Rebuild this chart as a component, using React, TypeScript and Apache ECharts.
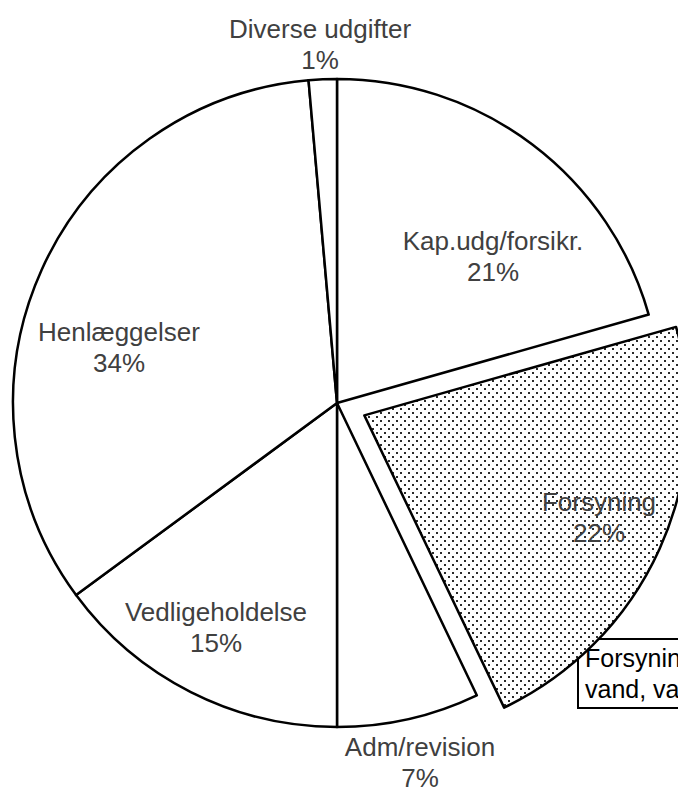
import React, { useEffect, useRef } from "react";
import * as echarts from "echarts";

// ---- data (clockwise from 12 o'clock) ----
const categories = [
  "Kap.udg/forsikr.",
  "Forsyning",
  "Adm/revision",
  "Vedligeholdelse",
  "Henlæggelser",
  "Diverse udgifter",
];
const values = [20.6, 22.3, 7.1, 14.9, 33.7, 1.4];
const explodedCategory = "Forsyning";
const calloutLines = ["Forsyning", "vand, varme"];

// ---- layout constants ----
const CX = 337;
const CY = 403;
const R = 324;
const EXPLODE = 30;
// label block centres, per category (layout only)
const LABEL_POS: [number, number][] = [
  [493, 256],
  [599, 517],
  [420, 762],
  [216, 627],
  [119, 347],
  [320, 44],
];
const FONT = '"Liberation Sans", Arial, sans-serif';

function makeDotPattern(): HTMLCanvasElement {
  const c = document.createElement("canvas");
  c.width = 8;
  c.height = 8;
  const ctx = c.getContext("2d")!;
  ctx.fillStyle = "#ffffff";
  ctx.fillRect(0, 0, 8, 8);
  ctx.fillStyle = "#2a2a2a";
  ctx.fillRect(0, 0, 2, 2);
  ctx.fillRect(4, 4, 2, 2);
  return c;
}

export default function App() {
  const ref = useRef<HTMLDivElement>(null);

  useEffect(() => {
    document.body.style.margin = "0";
    if (!ref.current) return;
    const chart = echarts.init(ref.current, undefined, { renderer: "svg" });
    const total = values.reduce((a, b) => a + b, 0);
    const pattern = { image: makeDotPattern(), repeat: "repeat" };
    const expIdx = categories.indexOf(explodedCategory);

    // mid-angle of the exploded slice (clockwise from 12 o'clock)
    const before = values.slice(0, expIdx).reduce((a, b) => a + b, 0);
    const midFrac = (before + values[expIdx] / 2) / total;
    const midRad = midFrac * Math.PI * 2;
    const ecx = CX + EXPLODE * Math.sin(midRad);
    const ecy = CY - EXPLODE * Math.cos(midRad);

    const hidden = {
      itemStyle: { color: "rgba(0,0,0,0)", borderWidth: 0 },
      label: { show: false },
    };

    const mainData = categories.map((name, i) =>
      i === expIdx
        ? { name, value: values[i], ...hidden }
        : { name, value: values[i], itemStyle: { color: "#ffffff" } }
    );
    const expData = categories.map((name, i) =>
      i === expIdx
        ? { name, value: values[i], itemStyle: { color: pattern } }
        : { name, value: values[i], ...hidden }
    );

    const labelCfg = {
      show: true,
      position: "inside",
      fontFamily: FONT,
      fontSize: 26,
      lineHeight: 31,
      color: "#404040",
      align: "center",
      formatter: (p: any) =>
        p.name + "\n" + Math.round((p.value / total) * 100) + "%",
    };
    const layoutFn = (params: any) => {
      const pos = LABEL_POS[params.dataIndex];
      return { x: pos[0], y: pos[1], align: "center", verticalAlign: "middle" };
    };

    const common = {
      type: "pie",
      radius: [0, R],
      startAngle: 90,
      clockwise: true,
      avoidLabelOverlap: false,
      silent: true,
      itemStyle: { borderColor: "#000000", borderWidth: 2.5 },
      emphasis: { disabled: true },
      label: labelCfg,
      labelLine: { show: false },
      labelLayout: layoutFn,
    };

    chart.setOption({
      animation: false,
      backgroundColor: "#ffffff",
      series: [
        { ...common, center: [CX, CY], data: mainData },
        { ...common, center: [ecx, ecy], data: expData },
      ],
      graphic: [
        {
          type: "group",
          z: 100,
          children: [
            {
              type: "rect",
              shape: { x: 578, y: 639, width: 200, height: 69 },
              style: { fill: "#ffffff", stroke: "#000000", lineWidth: 2 },
            },
            {
              type: "text",
              x: 585,
              y: 642,
              style: {
                text: calloutLines.join("\n"),
                font: "25px " + FONT,
                lineHeight: 31,
                fill: "#000000",
                align: "left",
                verticalAlign: "top",
              },
            },
          ],
        },
      ],
    });
    return () => chart.dispose();
  }, []);

  return <div ref={ref} style={{ width: 678, height: 789 }} />;
}
